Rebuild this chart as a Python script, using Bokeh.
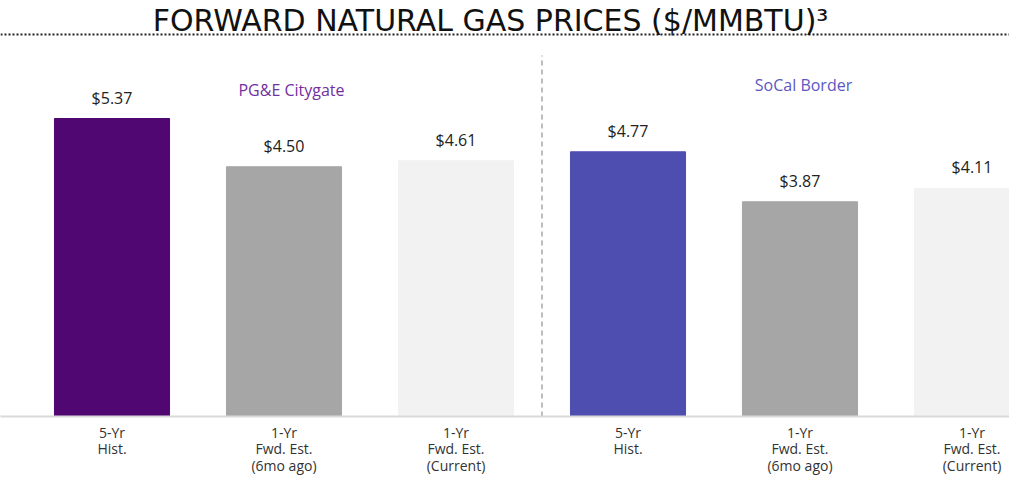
from bokeh.plotting import figure
from bokeh.models import (ColumnDataSource, Range1d, FixedTicker, LabelSet, Label, Span)
from bokeh.core.properties import value
from bokeh.embed import file_html
from bokeh.resources import INLINE

categories = ["5-Yr\nHist.", "1-Yr\nFwd. Est.\n(6mo ago)", "1-Yr\nFwd. Est.\n(Current)",
              "5-Yr\nHist.", "1-Yr\nFwd. Est.\n(6mo ago)", "1-Yr\nFwd. Est.\n(Current)"]
prices = [5.37, 4.50, 4.61, 4.77, 3.87, 4.11]
price_labels = ["$5.37", "$4.50", "$4.61", "$4.77", "$3.87", "$4.11"]
groups = ["PG&E Citygate", "SoCal Border"]
bar_colors = ["#500772", "#a6a6a6", "#f2f2f2", "#4e4eb1", "#a6a6a6", "#f2f2f2"]
group_colors = ["#7030a0", "#5b57c2"]
title_text = "FORWARD NATURAL GAS PRICES ($/MMBTU)\u00b3"

FONT = "Open Sans"
TITLE_FONT = "DejaVu Sans"
W, H = 1009, 478
FRAME_H = 416
px_per_cat = 172.0
x0 = -111.5 / px_per_cat
x1 = x0 + W / px_per_cat
px_per_unit = (FRAME_H - 118) / 5.37
y1 = FRAME_H / px_per_unit


def ydata(py):
    return (FRAME_H - py) / px_per_unit


def xdata(px):
    return px / px_per_cat + x0


xs = list(range(len(prices)))
src = ColumnDataSource(dict(x=xs, top=prices, color=bar_colors, lab=price_labels))

p = figure(width=W, height=H, output_backend="svg", toolbar_location=None,
           x_range=Range1d(x0, x1), y_range=Range1d(0, y1),
           min_border_left=0, min_border_right=0, min_border_top=0,
           min_border_bottom=H - FRAME_H)
p.outline_line_color = None
p.grid.visible = False
p.yaxis.visible = False
p.background_fill_color = "white"
p.border_fill_color = "white"

p.vbar(x="x", top="top", bottom=0, width=0.669, color="color", source=src)

labels = LabelSet(x="x", y="top", text="lab", source=src, y_offset=21,
                  text_align="center", text_baseline="middle",
                  text_font=value(FONT), text_font_size="16px", text_color="#222222")
p.add_layout(labels)

# x axis
ax = p.xaxis[0]
ax.ticker = FixedTicker(ticks=xs)
ax.major_label_overrides = {i: c for i, c in enumerate(categories)}
ax.major_tick_line_color = None
ax.major_tick_out = 0
ax.major_tick_in = 0
ax.minor_tick_line_color = None
ax.axis_line_color = "#d9d9d9"
ax.axis_line_width = 2
ax.major_label_standoff = 6
ax.major_label_text_font = FONT
ax.major_label_text_font_size = "14px"
ax.major_label_text_color = "#333333"
ax.major_label_text_line_height = 0.88

# divider between groups
mid = (len(prices) / 2) - 0.5
p.segment(x0=[mid], y0=[0], x1=[mid], y1=[ydata(55)],
          line_color="#a6a6a6", line_width=1.5, line_dash="5 4")

# group labels
gsrc = ColumnDataSource(dict(x=[xdata(291), xdata(803)], y=[ydata(89), ydata(84)],
                             t=groups, c=group_colors))
p.text(x="x", y="y", text="t", text_color="c", source=gsrc, text_align="center",
       text_baseline="middle", text_font_size="16px", text_font=value(FONT))

# title and dotted rule
p.add_layout(Span(location=ydata(34), dimension="width",
                  line_color="#222222", line_width=2, line_dash="2 2"))
p.add_layout(Label(x=xdata(490), y=ydata(20), text=title_text,
                   text_align="center", text_baseline="alphabetic", text_font=TITLE_FONT,
                   text_font_size="30px", text_color="#111111"))

open("out.html", "w").write(file_html(p, INLINE))
